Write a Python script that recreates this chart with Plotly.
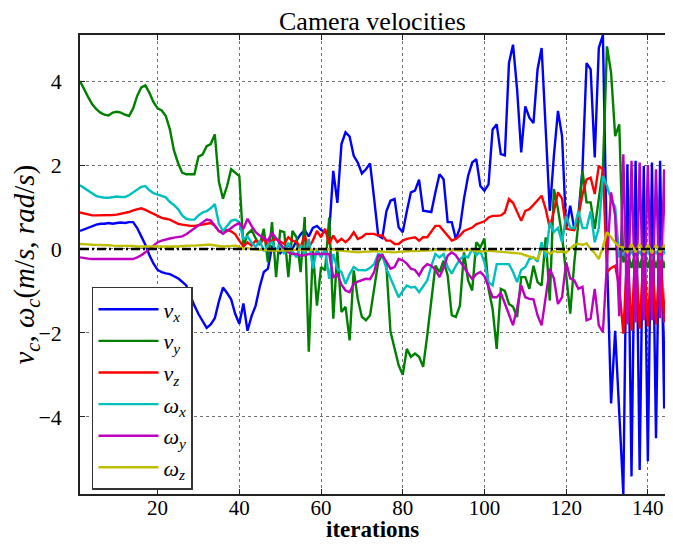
import plotly.graph_objects as go

# camera velocity components per iteration
iterations = list(range(1, 146))

v_x = [0.43, 0.47, 0.50, 0.55, 0.58, 0.60, 0.60, 0.62, 0.60, 0.62,
       0.63, 0.62, 0.64, 0.64, 0.50, 0.30, 0.10, -0.15, -0.35, -0.50,
       -0.55, -0.58, -0.60, -0.65, -0.70, -0.78, -0.87, -1.10, -1.35, -1.55,
       -1.70, -1.88, -1.80, -1.65, -1.25, -0.92, -1.05, -1.20, -1.55, -1.78,
       -1.30, -1.95, -1.60, -1.35, -0.90, -0.55, -0.47, 0.05, 0.00, -0.10,
       0.00, 0.10, 0.00, 0.20, 0.35, 0.45, 0.30, 0.50, 0.55, 0.45,
       0.40, 0.40, 1.86, 1.10, 2.50, 2.78, 2.68, 2.22, 2.06, 1.80,
       1.90, 2.04, 1.20, 0.32, 0.26, 0.90, 1.15, 1.19, 0.52, 0.40,
       0.90, 1.35, 1.39, 1.65, 0.91, 0.90, 0.88, 1.35, 1.78, 1.66,
       0.64, 0.64, 0.24, 0.50, 1.20, 1.74, 2.06, 2.14, 1.50, 1.39,
       1.54, 2.85, 2.97, 2.26, 2.23, 4.43, 4.87, 3.80, 2.30, 3.40,
       3.13, 3.00, 4.28, 4.79, 3.00, 0.91, 2.22, 3.29, 2.69, 0.48,
       1.03, 0.48, 0.80, 1.90, 4.43, 4.28, 2.18, 4.79, 5.10, -0.20,
       -3.68, -1.95, -3.90, -5.84, 2.02, -5.42, 2.10, -5.27, 1.98, -5.06,
       2.06, -4.51, 2.10, -3.80, 1.50]

v_y = [4.00, 3.80, 3.62, 3.45, 3.33, 3.25, 3.20, 3.18, 3.25, 3.27,
       3.25, 3.20, 3.17, 3.35, 3.65, 3.85, 3.90, 3.72, 3.50, 3.35,
       3.30, 3.17, 2.85, 2.35, 2.05, 1.82, 1.78, 1.78, 1.78, 2.20,
       2.25, 2.45, 2.50, 2.73, 1.60, 1.20, 1.50, 1.90, 1.82, 1.74,
       0.05, 0.36, 0.45, 0.25, 0.10, 0.48, -0.32, 0.64, -0.67, 0.43,
       0.40, -0.67, 0.43, 0.28, -0.55, 0.76, -2.45, -0.04, -1.35, -0.43,
       -0.51, 0.75, -1.66, -0.04, -1.50, -1.38, -2.18, -0.51, -1.19, -1.62,
       -1.70, -1.58, -0.95, -0.32, -0.12, -0.40, -1.97, -2.38, -2.77, -3.00,
       -2.38, -2.57, -2.49, -2.57, -2.81, -2.06, -1.20, -0.40, -0.55, -0.28,
       -0.63, -1.58, -1.62, -1.35, -0.08, -0.75, -0.99, 0.16, 0.04, 0.25,
       -0.95, -1.43, -2.38, -0.95, -1.00, -1.31, -1.38, -1.62, -0.67, -0.67,
       -0.95, -0.40, -0.79, -0.87, 0.28, -1.23, 1.43, 0.95, 0.32, -0.63,
       -1.54, -0.32, 0.63, 1.86, 1.11, 1.11, 0.48, 1.20, 1.90, 4.83,
       4.20, 2.69, 2.97, -0.32, -0.05, -0.45, -0.05, -0.45, -0.05, -0.45,
       -0.05, -0.45, -0.05, -0.45, -0.05]

v_z = [0.87, 0.85, 0.82, 0.80, 0.80, 0.80, 0.80, 0.81, 0.81, 0.82,
       0.84, 0.86, 0.88, 0.92, 0.95, 0.97, 0.93, 0.88, 0.82, 0.77,
       0.74, 0.72, 0.70, 0.65, 0.60, 0.58, 0.56, 0.55, 0.55, 0.56,
       0.58, 0.60, 0.62, 0.55, 0.42, 0.43, 0.45, 0.42, 0.35, 0.20,
       0.06, 0.16, 0.08, 0.20, 0.12, 0.25, 0.10, 0.20, 0.24, 0.18,
       0.12, 0.28, 0.20, 0.16, 0.04, 0.32, 0.04, 0.20, 0.43, 0.28,
       0.48, 0.12, 0.32, 0.16, 0.24, 0.16, 0.25, 0.40, 0.24, 0.28,
       0.36, 0.36, 0.36, 0.32, 0.32, 0.20, 0.20, 0.12, 0.12, 0.20,
       0.24, 0.26, 0.28, 0.20, 0.28, 0.28, 0.43, 0.55, 0.55, 0.43,
       0.32, 0.20, 0.24, 0.32, 0.43, 0.47, 0.51, 0.59, 0.63, 0.66,
       0.75, 0.79, 0.79, 0.80, 0.87, 1.19, 1.10, 0.90, 0.67, 0.91,
       0.95, 1.05, 1.15, 1.27, 0.95, 0.50, 0.90, 1.35, 1.20, 0.48,
       0.46, 0.45, 0.79, 1.30, 1.66, 1.70, 1.31, 1.98, 1.90, -0.55,
       -0.45, -0.40, -0.90, -2.02, 0.00, -1.95, 0.05, -1.90, 0.00, -1.85,
       0.00, -1.80, 0.00, -1.75, 0.00]

w_x = [1.52, 1.45, 1.39, 1.32, 1.26, 1.24, 1.22, 1.22, 1.24, 1.25,
       1.24, 1.24, 1.28, 1.35, 1.42, 1.48, 1.50, 1.40, 1.33, 1.30,
       1.27, 1.23, 1.12, 1.05, 0.95, 0.80, 0.72, 0.70, 0.70, 0.80,
       0.87, 0.90, 0.97, 1.07, 0.60, 0.43, 0.55, 0.67, 0.70, 0.63,
       0.24, 0.30, 0.15, 0.05, 0.20, -0.05, 0.10, 0.16, -0.05, 0.12,
       -0.12, 0.15, -0.05, -0.20, 0.10, -0.15, 0.24, -0.47, 0.00, -0.20,
       0.00, -0.71, -0.12, -0.47, -0.55, -0.83, -0.60, -0.43, -0.50, -0.50,
       -0.51, -0.45, -0.36, -0.12, -0.15, -0.47, -0.71, -0.95, -1.15, -1.00,
       -0.87, -0.92, -0.90, -1.03, -0.90, -0.75, -0.40, -0.12, -0.20, -0.12,
       -0.43, -0.59, -0.40, -0.25, -0.16, -0.20, 0.00, -0.15, -0.05, -0.32,
       -0.79, -0.87, -0.36, -0.36, -0.36, -0.36, -0.55, -0.79, -0.50, -0.43,
       -0.24, -0.20, -0.30, 0.16, -0.20, 0.63, 0.40, 0.50, 0.16, 0.79,
       0.50, 0.50, 0.91, 0.50, 0.50, 0.90, 0.16, 0.50, 1.74, 1.50,
       1.19, 1.00, -0.20, -0.10, -0.25, -0.05, -0.25, -0.05, -0.25, -0.05,
       -0.25, -0.05, -0.25, -0.05, -0.25]

w_y = [-0.20, -0.22, -0.23, -0.24, -0.24, -0.25, -0.24, -0.24, -0.24, -0.25,
       -0.24, -0.24, -0.24, -0.24, -0.20, -0.15, -0.08, 0.00, 0.10, 0.16,
       0.20, 0.23, 0.25, 0.27, 0.28, 0.30, 0.35, 0.42, 0.50, 0.57,
       0.63, 0.70, 0.68, 0.55, 0.43, 0.36, 0.42, 0.50, 0.57, 0.62,
       0.48, 0.72, 0.55, 0.40, 0.32, 0.25, 0.20, 0.38, 0.25, 0.12,
       0.00, -0.08, -0.12, -0.12, -0.16, -0.15, -0.12, -0.12, -0.12, -0.12,
       -0.12, -0.12, -0.67, -0.60, -0.85, -0.99, -1.03, -0.83, -0.78, -0.74,
       -0.71, -0.72, -0.55, -0.16, -0.15, -0.30, -0.47, -0.43, -0.24, -0.27,
       -0.35, -0.47, -0.50, -0.63, -0.45, -0.36, -0.40, -0.50, -0.67, -0.45,
       -0.16, -0.08, -0.15, -0.30, -0.43, -0.59, -0.71, -0.60, -0.55, -0.65,
       -0.90, -1.15, -1.15, -1.05, -1.30, -1.58, -1.82, -1.40, -0.87, -1.15,
       -1.19, -1.20, -1.58, -1.82, -1.20, -0.47, -0.70, -1.31, -1.15, -0.32,
       -0.70, -0.75, -0.95, -0.90, -1.70, -1.66, -0.95, -1.82, -1.98, -0.32,
       1.35, 0.79, -1.60, 2.26, -1.80, 2.10, -1.75, 2.06, -1.70, 2.00,
       -1.70, 1.90, -1.65, 1.90, -1.60]

w_z = [0.12, 0.12, 0.11, 0.10, 0.10, 0.10, 0.09, 0.09, 0.08, 0.08,
       0.08, 0.07, 0.07, 0.07, 0.06, 0.06, 0.05, 0.05, 0.05, 0.05,
       0.05, 0.05, 0.06, 0.06, 0.06, 0.07, 0.08, 0.08, 0.08, 0.09,
       0.09, 0.10, 0.10, 0.08, 0.07, 0.06, 0.06, 0.07, 0.08, 0.05,
       0.00, 0.02, 0.00, -0.01, -0.02, -0.03, -0.04, -0.04, -0.04, -0.03,
       -0.04, -0.03, -0.03, -0.02, -0.02, -0.03, -0.02, -0.02, -0.01, -0.01,
       0.00, -0.01, -0.03, -0.04, -0.05, -0.06, -0.07, -0.08, -0.08, -0.07,
       -0.07, -0.06, -0.05, -0.05, -0.06, -0.07, -0.08, -0.08, -0.07, -0.06,
       -0.06, -0.05, -0.05, -0.04, -0.04, -0.04, -0.03, -0.03, -0.02, -0.03,
       -0.02, -0.02, -0.03, -0.04, -0.03, -0.02, -0.03, -0.05, -0.06, -0.05,
       -0.04, -0.05, -0.06, -0.07, -0.08, -0.09, -0.09, -0.10, -0.11, -0.15,
       -0.18, -0.22, -0.24, 0.00, -0.04, -0.12, -0.05, -0.08, -0.06, -0.08,
       0.00, 0.10, 0.12, 0.10, 0.13, 0.00, -0.10, -0.24, 0.05, 0.40,
       0.28, 0.15, 0.05, 0.04, -0.08, 0.12, -0.08, 0.12, -0.08, 0.10,
       -0.10, 0.10, -0.08, 0.08, -0.05]

series_names = ['<i>v</i><sub><i>x</i></sub>', '<i>v</i><sub><i>y</i></sub>',
                '<i>v</i><sub><i>z</i></sub>', '<i>ω</i><sub><i>x</i></sub>',
                '<i>ω</i><sub><i>y</i></sub>', '<i>ω</i><sub><i>z</i></sub>']
series_values = [v_x, v_y, v_z, w_x, w_y, w_z]
# old matplotlib single-letter colours b, g, r, c, m, y
colors = ['#0000ff', '#008000', '#ff0000', '#00bfbf', '#bf00bf', '#bfbf00']

serif = 'Liberation Serif'

fig = go.Figure()
for name, vals, col in zip(series_names, series_values, colors):
    fig.add_trace(go.Scatter(x=iterations, y=vals, mode='lines', name=name,
                             legendgroup=name,
                             line=dict(color=col, width=2.4)))

# zero reference line
fig.add_hline(y=0, line=dict(color='black', width=2.5, dash='9px,3px,2px,3px'))

all_vals = [v for s in series_values for v in s]
y_lo, y_hi = min(all_vals), max(all_vals)

# page body has an 8px margin all round, so keep the figure inside the window
fig.update_layout(
    width=657, height=536,
    margin=dict(l=72, r=0, t=27, b=50),
    paper_bgcolor='white', plot_bgcolor='white',
    font=dict(family=serif, size=21, color='black'),
    title=dict(text='Camera velocities', x=0.5, xref='paper', xanchor='center',
               y=0.993, yanchor='top', pad=dict(t=0, b=0),
               font=dict(family=serif, size=26)),
    showlegend=True,
    legend=dict(x=0.0205, y=0.451, xanchor='left', yanchor='top',
                bgcolor='white', bordercolor='#333333', borderwidth=1.5,
                font=dict(family=serif, size=22), tracegroupgap=0,
                itemwidth=60),
)

fig.update_xaxes(range=[1, 144.2], tickvals=[20, 40, 60, 80, 100, 120, 140],
                 showgrid=True, gridcolor='rgba(0,0,0,0.55)', griddash='dot', gridwidth=1,
                 zeroline=False, showline=True, linecolor='#222', linewidth=1.5,
                 mirror='ticks', ticks='inside', ticklen=5, tickcolor='#222',
                 ticklabelstandoff=-6)
fig.update_yaxes(range=[y_lo, y_hi], tickvals=[-4, -2, 0, 2, 4],
                 showgrid=True, gridcolor='rgba(0,0,0,0.55)', griddash='dot', gridwidth=1,
                 zeroline=False, showline=True, linecolor='#222', linewidth=1.5,
                 ticks='inside', ticklen=5, tickcolor='#222',
                 ticklabelstandoff=12, tickfont=dict(size=22))

# axis labels as annotations so they sit where the original has them
fig.add_annotation(text='<b>iterations</b>', xref='paper', yref='paper',
                   x=0.5, y=-0.1089, xanchor='center', yanchor='bottom',
                   showarrow=False, font=dict(family=serif, size=23))
fig.add_annotation(text='<i>v</i><sub><i>c</i></sub>, <i>ω</i><sub><i>c</i></sub>'
                        '(<i>m</i>/<i>s</i>, <i>rad</i>/<i>s</i>)',
                   xref='paper', yref='paper', x=-0.094, y=0.5,
                   xanchor='center', yanchor='middle', textangle=-90,
                   showarrow=False, font=dict(family=serif, size=29))

fig.write_html('out.html')
